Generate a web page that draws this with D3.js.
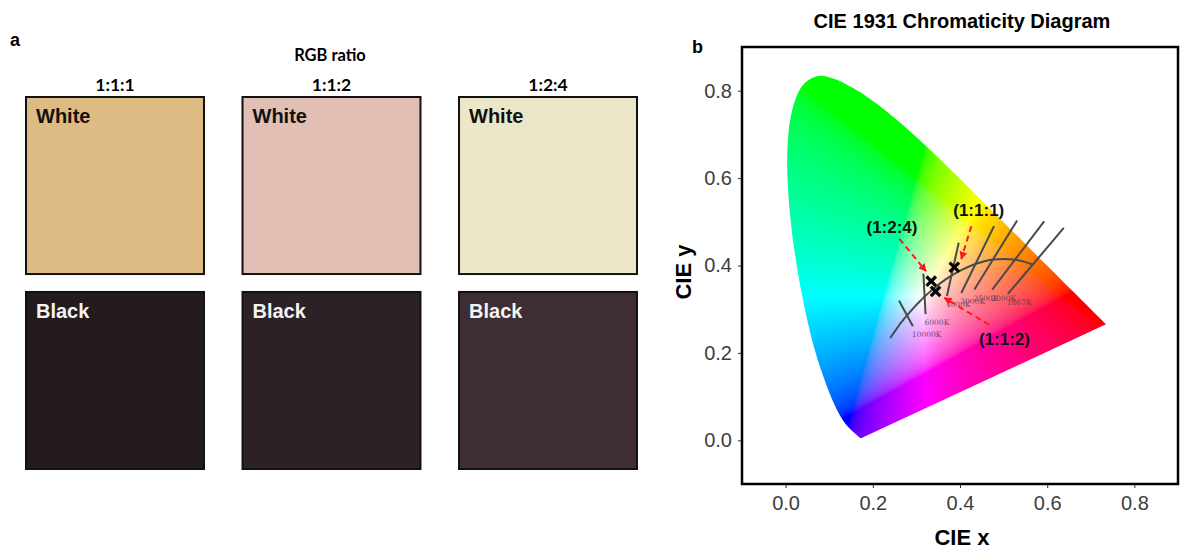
<!DOCTYPE html>
<html>
<head>
<meta charset="utf-8">
<script src="https://cdn.jsdelivr.net/npm/d3@7"></script>
<style>
  body { margin: 0; background: #fff; }
  text { font-family: "Liberation Sans", Arial, sans-serif; }
</style>
</head>
<body>
<div id="chart"></div>
<script>
// ---- panel a data
var ratios = ["1:1:1", "1:1:2", "1:2:4"];
var tones = ["White", "Black"];
var whiteColors = ["#dfbb84", "#e1bfb5", "#ede7c9"];
var blackColors = ["#231b1e", "#2c2126", "#3e2d33"];

// ---- panel b data
// CIE 1931 spectral locus (x, y), 380-700 nm
var locusX = [0.1741,0.1733,0.1714,0.1689,0.1644,0.1566,0.1440,0.1355,0.1241,0.1096,0.0913,0.0687,0.0454,0.0235,0.0082,0.0039,0.0139,0.0389,0.0743,0.1142,0.1547,0.1929,0.2296,0.2658,0.3016,0.3373,0.3731,0.4087,0.4441,0.4788,0.5125,0.5448,0.5752,0.6029,0.6270,0.6482,0.6658,0.6915,0.7079,0.7190,0.7260,0.7300,0.7334,0.7347];
var locusY = [0.0050,0.0048,0.0051,0.0069,0.0109,0.0177,0.0297,0.0399,0.0578,0.0868,0.1327,0.2007,0.2950,0.4127,0.5384,0.6548,0.7502,0.8120,0.8338,0.8262,0.8059,0.7816,0.7543,0.7243,0.6923,0.6589,0.6245,0.5896,0.5547,0.5202,0.4866,0.4544,0.4242,0.3965,0.3725,0.3514,0.3340,0.3083,0.2920,0.2809,0.2740,0.2700,0.2666,0.2653];

// planckian locus, infinity -> 1667K
var planckX = [0.2399,0.2525,0.2565,0.2637,0.2720,0.2807,0.2869,0.2952,0.3064,0.3135,0.3221,0.3325,0.3451,0.3608,0.3805,0.4053,0.4369,0.4770,0.5267,0.5646];
var planckY = [0.2342,0.2523,0.2577,0.2681,0.2782,0.2884,0.2956,0.3048,0.3166,0.3237,0.3318,0.3411,0.3516,0.3636,0.3768,0.3907,0.4041,0.4137,0.4133,0.4029];

// isotemperature lines (top end -> bottom end)
var isoLabels = ["10000K","6000K","4000K","3000K","2500K","2000K","1667K"];
var isoX1 = [0.260,0.316,0.397,0.478,0.531,0.593,0.638];
var isoY1 = [0.320,0.381,0.452,0.490,0.503,0.501,0.486];
var isoX2 = [0.292,0.321,0.370,0.403,0.433,0.474,0.510];
var isoY2 = [0.261,0.289,0.330,0.337,0.345,0.345,0.335];

// measured points and their annotations
var sampleNames = ["(1:1:1)", "(1:2:4)", "(1:1:2)"];
var sampleX = [0.387, 0.334, 0.344];
var sampleY = [0.396, 0.364, 0.341];
var labelX = [0.443, 0.244, 0.502];
var labelY = [0.528, 0.488, 0.232];
var arrowFromX = [0.426, 0.261, 0.467];
var arrowFromY = [0.490, 0.461, 0.264];
var arrowToX = [0.403, 0.322, 0.364];
var arrowToY = [0.415, 0.387, 0.326];

var xTicks = [0, 0.2, 0.4, 0.6, 0.8];
var yTicks = [0, 0.2, 0.4, 0.6, 0.8];

var width = 1185, height = 551;

var svg = d3.select("#chart").append("svg")
    .attr("width", width)
    .attr("height", height);

// ================= panel a
svg.append("text").attr("x", 10).attr("y", 46)
    .attr("font-weight", "bold").attr("font-size", 18).text("a");

var col = d3.scaleBand().domain(ratios).range([26, 637]).paddingInner(0.178);
var row = d3.scaleBand().domain(tones).range([97, 469]).paddingInner(0.092);

svg.append("text")
    .attr("x", 330).attr("y", 61)
    .attr("text-anchor", "middle")
    .style("font-family", "Lato, 'Open Sans', sans-serif")
    .attr("font-weight", "bold").attr("font-size", 16.5)
    .text("RGB ratio");

svg.selectAll(".ratio")
    .data(ratios)
    .enter().append("text")
    .attr("class", "ratio")
    .attr("x", function(d){ return col(d) + col.bandwidth()/2 })
    .attr("y", 91)
    .attr("text-anchor", "middle")
    .style("font-family", "Lato, 'Open Sans', sans-serif")
    .attr("font-weight", "bold").attr("font-size", 17.5)
    .text(function(d){ return d });

var cells = [];
tones.forEach(function(t){
    ratios.forEach(function(r, i){
        cells.push({tone: t, ratio: r, color: t === "White" ? whiteColors[i] : blackColors[i]});
    });
});

svg.selectAll(".swatch")
    .data(cells)
    .enter().append("rect")
    .attr("class", "swatch")
    .attr("x", function(d){ return col(d.ratio) })
    .attr("y", function(d){ return row(d.tone) })
    .attr("width", col.bandwidth())
    .attr("height", row.bandwidth())
    .attr("fill", function(d){ return d.color })
    .attr("stroke", "#111")
    .attr("stroke-width", 2);

svg.selectAll(".swatch-label")
    .data(cells)
    .enter().append("text")
    .attr("class", "swatch-label")
    .attr("x", function(d){ return col(d.ratio) + 10 })
    .attr("y", function(d){ return row(d.tone) + 26 })
    .attr("font-weight", "bold").attr("font-size", 20)
    .attr("fill", function(d){ return d.tone === "White" ? "#111" : "#f4f4f4" })
    .text(function(d){ return d.tone });

// ================= panel b
var x = d3.scaleLinear().domain([-0.1, 0.9]).range([742, 1178]);
var y = d3.scaleLinear().domain([-0.1, 0.9]).range([484, 47]);

svg.append("text").attr("x", 692).attr("y", 53)
    .attr("font-weight", "bold").attr("font-size", 18).text("b");

svg.append("text")
    .attr("x", 962).attr("y", 28)
    .attr("text-anchor", "middle")
    .attr("font-weight", "bold").attr("font-size", 20)
    .text("CIE 1931 Chromaticity Diagram");

var locus = locusX.map(function(d, i){ return [d, locusY[i]] });
var smooth = d3.line().curve(d3.curveCatmullRom.alpha(0.5))
    .x(function(d){ return x(d[0]) }).y(function(d){ return y(d[1]) });

var defs = svg.append("defs");
defs.append("clipPath").attr("id", "locus-clip")
    .append("path")
    .attr("d", smooth(locus) + "Z");

// colour fill, computed per pixel from xy
var x0 = x.range()[0], x1 = x.range()[1], y0 = y.range()[1], y1 = y.range()[0];
var cw = Math.round(x1 - x0), ch = Math.round(y1 - y0);
var canvas = document.createElement("canvas");
canvas.width = cw; canvas.height = ch;
var ctx = canvas.getContext("2d");
var img = ctx.createImageData(cw, ch);
function gam(c){ return c <= 0.0031308 ? 12.92*c : 1.055*Math.pow(c, 1/2.4) - 0.055 }
for (var j = 0; j < ch; j++){
    for (var i = 0; i < cw; i++){
        var cx = x.invert(x0 + i + 0.5), cy = y.invert(y0 + j + 0.5);
        var k = (j*cw + i)*4;
        if (cy < 0.002) { cy = 0.002 }
        var X = cx/cy, Z = (1 - cx - cy)/cy;
        var r = 3.2406*X - 1.5372 - 0.4986*Z;
        var g = -0.9689*X + 1.8758 + 0.0415*Z;
        var b = 0.0557*X - 0.2040 + 1.0570*Z;
        r = Math.max(r, 0); g = Math.max(g, 0); b = Math.max(b, 0);
        var m = Math.max(r, g, b) || 1;
        img.data[k] = Math.round(255*gam(r/m));
        img.data[k+1] = Math.round(255*gam(g/m));
        img.data[k+2] = Math.round(255*gam(b/m));
        img.data[k+3] = 255;
    }
}
ctx.putImageData(img, 0, 0);

svg.append("image")
    .attr("x", x0).attr("y", y0)
    .attr("width", cw).attr("height", ch)
    .attr("preserveAspectRatio", "none")
    .attr("href", canvas.toDataURL())
    .attr("clip-path", "url(#locus-clip)");

// planckian locus
var planck = planckX.map(function(d, i){ return [d, planckY[i]] });
svg.append("path")
    .attr("d", smooth(planck))
    .attr("fill", "none")
    .attr("stroke", "#4a4a4a")
    .attr("stroke-width", 2);

// isotherms
svg.selectAll(".iso")
    .data(isoLabels)
    .enter().append("line")
    .attr("class", "iso")
    .attr("x1", function(d, i){ return x(isoX1[i]) })
    .attr("y1", function(d, i){ return y(isoY1[i]) })
    .attr("x2", function(d, i){ return x(isoX2[i]) })
    .attr("y2", function(d, i){ return y(isoY2[i]) })
    .attr("stroke", "#4a4a4a")
    .attr("stroke-width", 2);

svg.selectAll(".iso-label")
    .data(isoLabels)
    .enter().append("text")
    .attr("class", "iso-label")
    .attr("x", function(d, i){ return x(isoX2[i]) - 1 })
    .attr("y", function(d, i){ return y(isoY2[i]) + 11 })
    .style("font-family", "'DejaVu Serif', serif")
    .attr("font-size", 7.5)
    .attr("fill", "#5b3c5b")
    .attr("opacity", 0.85)
    .text(function(d){ return d });

// arrows
defs.append("marker")
    .attr("id", "arrow")
    .attr("viewBox", "0 0 10 10")
    .attr("refX", 9).attr("refY", 5)
    .attr("markerWidth", 4).attr("markerHeight", 4)
    .attr("orient", "auto")
    .append("path").attr("d", "M0,0L10,5L0,10Z").attr("fill", "#ff1a1a");

svg.selectAll(".arrow")
    .data(sampleNames)
    .enter().append("line")
    .attr("class", "arrow")
    .attr("x1", function(d, i){ return x(arrowFromX[i]) })
    .attr("y1", function(d, i){ return y(arrowFromY[i]) })
    .attr("x2", function(d, i){ return x(arrowToX[i]) })
    .attr("y2", function(d, i){ return y(arrowToY[i]) })
    .attr("stroke", "#ff1a1a")
    .attr("stroke-width", 2)
    .attr("stroke-dasharray", "6,4")
    .attr("marker-end", "url(#arrow)");

// sample crosses
svg.selectAll(".sample")
    .data(sampleNames)
    .enter().append("path")
    .attr("class", "sample")
    .attr("transform", function(d, i){ return "translate(" + x(sampleX[i]) + "," + y(sampleY[i]) + ")" })
    .attr("d", d3.symbol().type(d3.symbolX).size(60))
    .attr("fill", "none")
    .attr("stroke", "#000")
    .attr("stroke-width", 3.2);

svg.selectAll(".sample-label")
    .data(sampleNames)
    .enter().append("text")
    .attr("class", "sample-label")
    .attr("x", function(d, i){ return x(labelX[i]) })
    .attr("y", function(d, i){ return y(labelY[i]) + 6 })
    .attr("text-anchor", "middle")
    .attr("font-weight", "bold").attr("font-size", 17)
    .attr("fill", "#111")
    .text(function(d){ return d });

// axes
var xAxis = svg.append("g")
    .attr("transform", "translate(0," + y.range()[0] + ")")
    .call(d3.axisBottom(x).tickValues(xTicks).tickFormat(d3.format(".1f")).tickSize(4).tickPadding(8));
var yAxis = svg.append("g")
    .attr("transform", "translate(" + x.range()[0] + ",0)")
    .call(d3.axisLeft(y).tickValues(yTicks).tickFormat(d3.format(".1f")).tickSize(4).tickPadding(6));
[xAxis, yAxis].forEach(function(a){
    a.select(".domain").remove();
    a.selectAll("line").attr("stroke", "#333");
    a.selectAll("text")
        .style("font-family", "'Liberation Sans', Arial, sans-serif")
        .attr("font-size", 20).attr("fill", "#3d3d3d");
});

svg.append("rect")
    .attr("x", x.range()[0]).attr("y", y.range()[1])
    .attr("width", x.range()[1] - x.range()[0])
    .attr("height", y.range()[0] - y.range()[1])
    .attr("fill", "none")
    .attr("stroke", "#000")
    .attr("stroke-width", 2.5);

svg.append("text")
    .attr("x", 962).attr("y", 545)
    .attr("text-anchor", "middle")
    .attr("font-weight", "bold").attr("font-size", 22)
    .text("CIE x");

svg.append("text")
    .attr("transform", "translate(691,272) rotate(-90)")
    .attr("text-anchor", "middle")
    .attr("font-weight", "bold").attr("font-size", 22)
    .text("CIE y");
</script>
</body>
</html>
